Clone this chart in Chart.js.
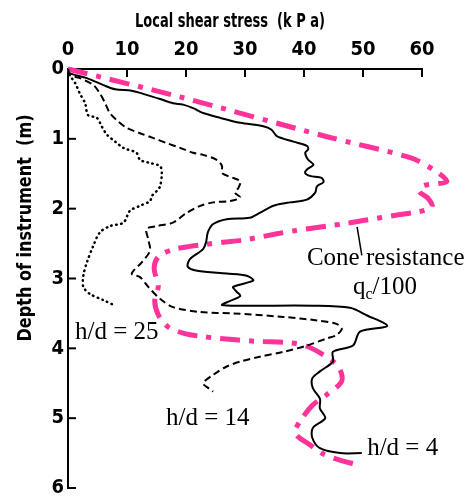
<!DOCTYPE html>
<html lang="en">
<head>
<meta charset="UTF-8">
<title>Local shear stress vs depth</title>
<script src="https://cdn.jsdelivr.net/npm/chart.js@4.4.1/dist/chart.umd.min.js"></script>
<style>
  html, body { margin: 0; padding: 0; background: #fff; }
</style>
</head>
<body>
<canvas id="shearChart" width="469" height="504"></canvas>
<script>
// axis ticks
const stressTicks = [0, 10, 20, 30, 40, 50, 60];
const depthTicks = [0, 1, 2, 3, 4, 5, 6];

// h/d = 4 (solid line)
const hd4Stress = [0, 0.2, 3.2, 6.0, 8.0, 10.8, 13.3, 15.6, 17.8, 19.5, 21.2, 22.9, 25.8, 29.2, 33.1, 34.5, 35.4, 38.2, 40.5, 40.7, 40.2, 40.7, 41.6, 40.5, 40.2, 41.0, 43.0, 43.3, 42.2, 41.9, 40.5, 37.6, 35.1, 34.2, 32.5, 30.8, 26.9, 24.6, 23.7, 23.4, 22.9, 20.7, 20.3, 21.9, 26.9, 30.3, 31.4, 28.0, 28.6, 29.2, 27.5, 26.1, 30.3, 41.5, 47.8, 50.7, 54.1, 49.5, 48.3, 44.9, 44.9, 42.7, 41.4, 41.5, 42.7, 42.7, 43.6, 41.5, 41.4, 42.7, 46.1, 49.8];
const hd4Depth = [0.01, 0.06, 0.13, 0.23, 0.29, 0.31, 0.37, 0.43, 0.49, 0.51, 0.56, 0.63, 0.70, 0.77, 0.82, 0.87, 0.96, 1.04, 1.10, 1.15, 1.20, 1.30, 1.37, 1.44, 1.49, 1.53, 1.56, 1.62, 1.68, 1.77, 1.87, 1.91, 1.95, 1.98, 2.06, 2.13, 2.15, 2.22, 2.34, 2.48, 2.58, 2.72, 2.83, 2.89, 2.93, 2.96, 3.03, 3.12, 3.19, 3.25, 3.32, 3.38, 3.39, 3.39, 3.42, 3.53, 3.68, 3.76, 3.96, 4.05, 4.19, 4.33, 4.43, 4.57, 4.72, 4.86, 5.00, 5.14, 5.28, 5.43, 5.50, 5.50];

// h/d = 14 (dashed line)
const hd14Stress = [0, 0.3, 2.0, 4.3, 5.4, 6.3, 7.1, 8.5, 9.9, 12.2, 14.5, 16.7, 19.0, 21.2, 22.9, 25.2, 26.1, 26.1, 28.0, 29.2, 28.9, 28.3, 29.2, 27.5, 24.6, 22.4, 20.1, 17.8, 15.0, 13.3, 13.6, 13.9, 12.5, 10.8, 12.2, 13.6, 15.6, 17.8, 22.4, 28.0, 36.5, 42.2, 45.5, 46.4, 45.5, 43.8, 40.5, 36.5, 32.5, 29.2, 26.9, 24.6, 22.9, 23.8, 24.6];
const hd14Depth = [0.01, 0.09, 0.13, 0.23, 0.35, 0.49, 0.63, 0.75, 0.84, 0.92, 0.99, 1.06, 1.13, 1.20, 1.23, 1.30, 1.39, 1.49, 1.56, 1.61, 1.70, 1.77, 1.84, 1.89, 1.91, 1.96, 2.06, 2.20, 2.25, 2.29, 2.44, 2.60, 2.77, 2.93, 2.98, 3.12, 3.29, 3.41, 3.48, 3.50, 3.55, 3.60, 3.65, 3.72, 3.81, 3.86, 3.96, 4.05, 4.12, 4.19, 4.26, 4.38, 4.50, 4.57, 4.62];

// h/d = 25 (dotted line)
const hd25Stress = [0, 0.3, 1.2, 2.0, 2.9, 3.4, 4.9, 5.7, 6.6, 8.0, 9.4, 11.6, 12.2, 13.6, 15.6, 15.9, 15.6, 15.0, 14.2, 13.9, 12.2, 10.5, 9.4, 7.1, 5.4, 4.3, 3.2, 2.6, 2.6, 3.7, 6.0, 8.0];
const hd25Depth = [0.01, 0.09, 0.20, 0.35, 0.49, 0.66, 0.70, 0.82, 0.94, 1.04, 1.13, 1.20, 1.30, 1.34, 1.39, 1.49, 1.68, 1.75, 1.82, 1.89, 1.96, 2.03, 2.20, 2.25, 2.34, 2.53, 2.77, 2.96, 3.12, 3.22, 3.31, 3.39];

// cone resistance qc/100 (pink dash-dot)
const coneStress = [0, 19.0, 43.9, 58.0, 61.9, 64.2, 60.3, 59.5, 61.0, 61.7, 59.0, 55.8, 50.0, 47.3, 43.9, 38.1, 35.4, 29.7, 26.3, 23.4, 20.7, 17.6, 15.3, 14.6, 15.3, 14.7, 15.3, 16.9, 19.8, 22.7, 25.8, 32.0, 37.6, 40.5, 43.2, 45.8, 46.4, 43.9, 41.5, 39.7, 38.5, 41.0, 43.2, 46.1, 49.2];
const coneDepth = [0.0, 0.40, 0.97, 1.27, 1.44, 1.61, 1.67, 1.75, 1.85, 1.98, 2.05, 2.09, 2.17, 2.21, 2.25, 2.32, 2.36, 2.45, 2.48, 2.51, 2.54, 2.59, 2.69, 2.86, 3.11, 3.32, 3.52, 3.69, 3.79, 3.83, 3.86, 3.90, 3.92, 3.97, 4.09, 4.26, 4.47, 4.66, 4.81, 5.00, 5.21, 5.38, 5.51, 5.60, 5.67];

// labels placed in data units (stress, depth)
const notes = [
  { text: 'h/d = 25', x: 1.2, y: 3.86 },
  { text: 'h/d = 14', x: 16.6, y: 5.10 },
  { text: 'h/d = 4', x: 50.7, y: 5.53 },
  { text: 'Cone resistance', x: 40.5, y: 2.81 }
];
const coneLeader = [[49.0, 2.26], [49.8, 2.67]];
const qcNote = { x: 48.3, y: 3.22 };

function toPoints(xs, ys) {
  return xs.map((v, i) => ({ x: v, y: ys[i] }));
}

const axisFont = "'Liberation Sans Narrow', 'DejaVu Sans Condensed', sans-serif";
const serifFont = "'Liberation Serif', 'DejaVu Serif', serif";

// draws text squeezed to a given width (the original uses a very narrow face)
function squeezeText(ctx, text, cx, cy, width, angle) {
  ctx.save();
  ctx.translate(cx, cy);
  ctx.rotate(angle);
  ctx.font = "bold 19px 'DejaVu Sans Condensed', sans-serif";
  const w = ctx.measureText(text).width;
  ctx.scale(width / w, 1);
  ctx.textAlign = 'center';
  ctx.textBaseline = 'alphabetic';
  ctx.fillStyle = '#000';
  ctx.fillText(text, 0, 0);
  ctx.restore();
}

const annotate = {
  id: 'annotate',
  afterDraw(chart) {
    const { ctx } = chart;
    const xs = chart.scales.x, ys = chart.scales.y;
    ctx.save();

    // inward tick marks
    ctx.strokeStyle = '#000';
    ctx.lineWidth = 2;
    stressTicks.forEach(v => {
      if (v === 0) return;
      const px = xs.getPixelForValue(v);
      ctx.beginPath();
      ctx.moveTo(px, ys.top);
      ctx.lineTo(px, ys.top + 8);
      ctx.stroke();
    });
    depthTicks.forEach(v => {
      if (v === 0) return;
      const py = ys.getPixelForValue(v);
      ctx.beginPath();
      ctx.moveTo(xs.left, py);
      ctx.lineTo(xs.left + 8, py);
      ctx.stroke();
    });

    // axis titles
    squeezeText(ctx, 'Local shear stress  (k P a)', 230, 27, 190, 0);
    squeezeText(ctx, 'Depth of instrument  (m)', 31, 228, 227, -Math.PI / 2);

    // curve labels
    ctx.fillStyle = '#000';
    ctx.font = '25px ' + serifFont;
    ctx.textAlign = 'left';
    ctx.textBaseline = 'alphabetic';
    notes.forEach(n => {
      ctx.fillText(n.text, xs.getPixelForValue(n.x), ys.getPixelForValue(n.y));
    });

    // q_c/100
    let qx = xs.getPixelForValue(qcNote.x);
    const qy = ys.getPixelForValue(qcNote.y);
    ctx.fillText('q', qx, qy);
    qx += ctx.measureText('q').width;
    ctx.font = '16px ' + serifFont;
    ctx.fillText('c', qx, qy + 5);
    qx += ctx.measureText('c').width;
    ctx.font = '25px ' + serifFont;
    ctx.fillText('/100', qx, qy);

    // leader line to cone curve
    ctx.lineWidth = 1.5;
    ctx.beginPath();
    ctx.moveTo(xs.getPixelForValue(coneLeader[0][0]), ys.getPixelForValue(coneLeader[0][1]));
    ctx.lineTo(xs.getPixelForValue(coneLeader[1][0]), ys.getPixelForValue(coneLeader[1][1]));
    ctx.stroke();

    ctx.restore();
  }
};

const ctx = document.getElementById('shearChart').getContext('2d');
new Chart(ctx, {
  type: 'line',
  data: {
    datasets: [
      {
        label: 'h/d = 4',
        data: toPoints(hd4Stress, hd4Depth),
        borderColor: '#000',
        borderWidth: 2,
        tension: 0.3
      },
      {
        label: 'h/d = 14',
        data: toPoints(hd14Stress, hd14Depth),
        borderColor: '#000',
        borderWidth: 2,
        borderDash: [7, 4],
        tension: 0.3
      },
      {
        label: 'h/d = 25',
        data: toPoints(hd25Stress, hd25Depth),
        borderColor: '#000',
        borderWidth: 2.5,
        borderDash: [0.5, 4.5],
        borderCapStyle: 'round',
        tension: 0.3
      },
      {
        label: 'Cone resistance qc/100',
        data: toPoints(coneStress, coneDepth),
        borderColor: '#ff3399',
        borderWidth: 5,
        borderDash: [20, 9, 5, 9],
        tension: 0.3,
        clip: false
      }
    ]
  },
  options: {
    responsive: false,
    animation: false,
    parsing: true,
    elements: { point: { radius: 0 } },
    layout: { padding: { left: 0, top: 0, right: 47, bottom: 14 } },
    plugins: {
      legend: { display: false },
      tooltip: { enabled: false }
    },
    scales: {
      x: {
        type: 'linear',
        position: 'top',
        min: 0,
        max: 60,
        afterFit: s => { s.height = 69; },
        afterBuildTicks: s => { s.ticks = stressTicks.map(v => ({ value: v })); },
        ticks: {
          color: '#000',
          padding: 7,
          maxRotation: 0,
          font: { family: axisFont, size: 20, weight: 'bold' }
        },
        grid: { display: false, drawTicks: false },
        border: { display: true, color: '#000', width: 2 }
      },
      y: {
        type: 'linear',
        reverse: true,
        min: 0,
        max: 6,
        afterFit: s => { s.width = 68; },
        afterBuildTicks: s => { s.ticks = depthTicks.map(v => ({ value: v })); },
        ticks: {
          color: '#000',
          padding: 4,
          font: { family: axisFont, size: 20, weight: 'bold' }
        },
        grid: { display: false, drawTicks: false },
        border: { display: true, color: '#000', width: 2 }
      }
    }
  },
  plugins: [annotate]
});
</script>
</body>
</html>
